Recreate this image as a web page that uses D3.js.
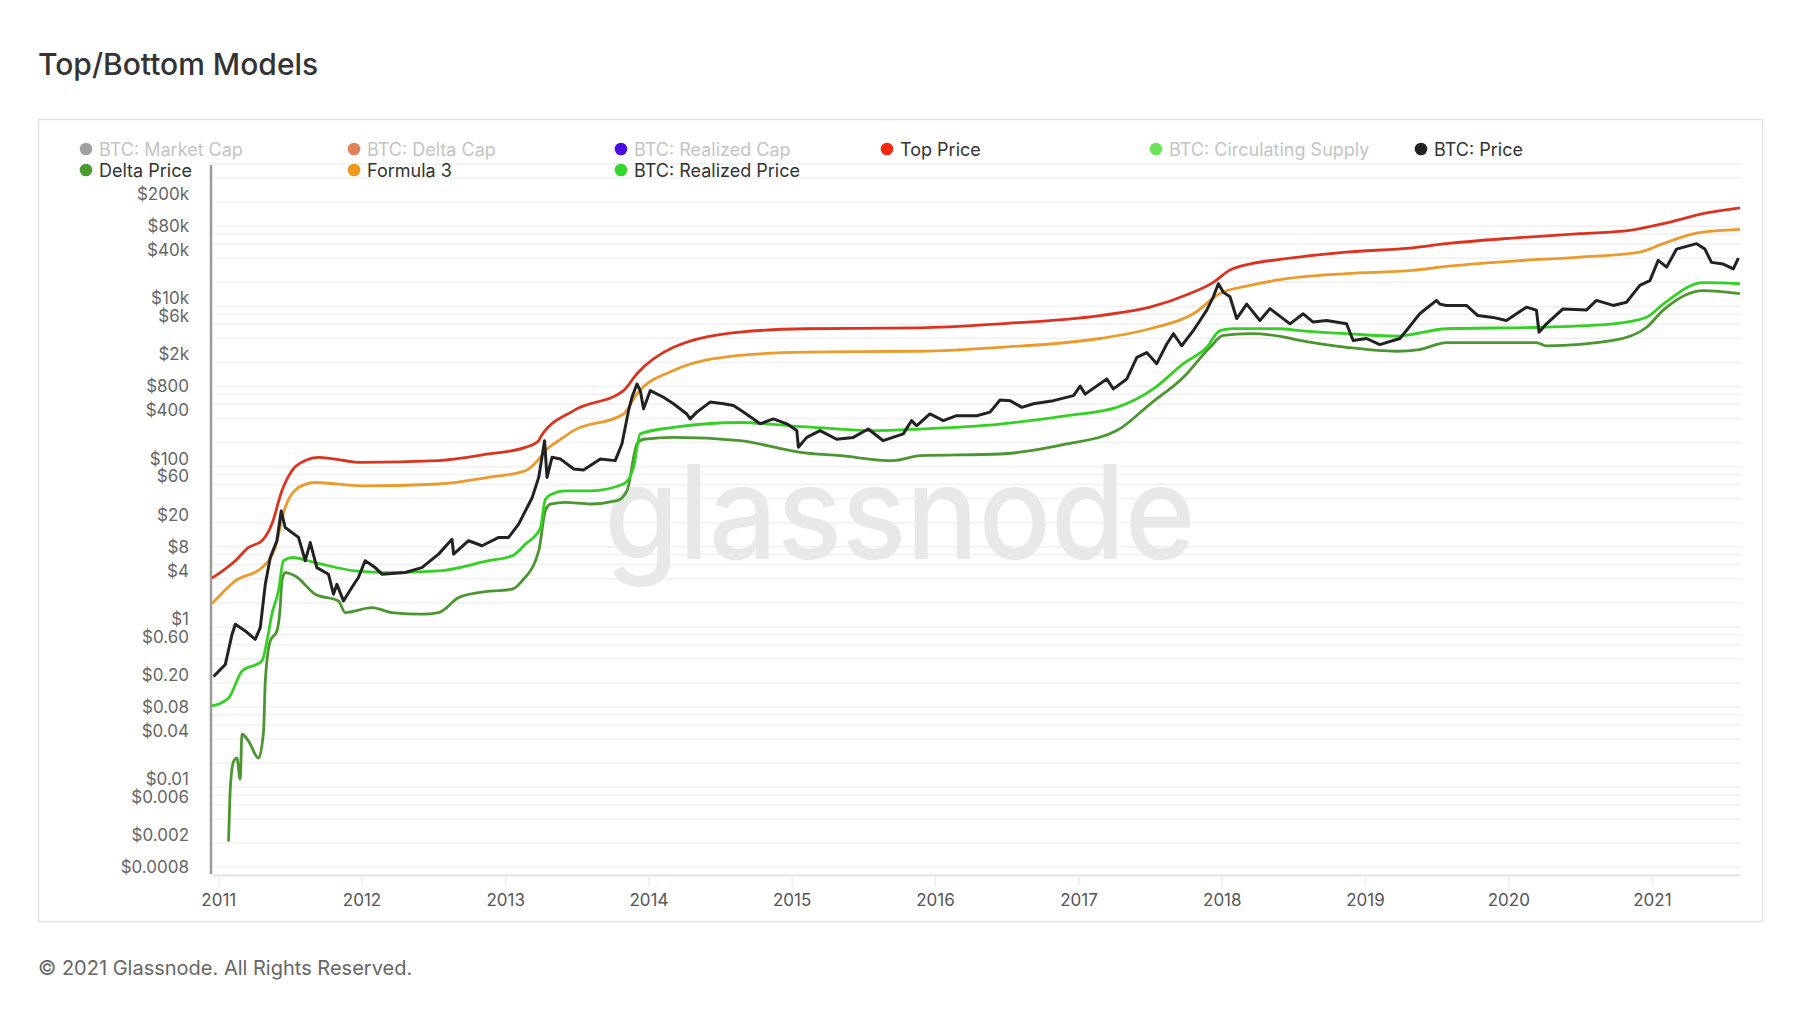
<!DOCTYPE html>
<html>
<head>
<meta charset="utf-8">
<script src="https://cdn.jsdelivr.net/npm/d3@7"></script>
<style>
  body { margin: 0; background: #fff; }
  text { font-family: Inter, "Noto Sans", sans-serif; }
</style>
</head>
<body>
<script>
// data: [decimal year, USD]
const topPrice = [
  [2010.956, 4.06], [2011.119, 6.7], [2011.211, 9.8], [2011.305, 11.9], [2011.374, 19.2],
  [2011.444, 50], [2011.514, 89], [2011.607, 119], [2011.699, 131], [2012.002, 113],
  [2012.536, 119], [2012.885, 144], [2013.141, 174], [2013.234, 211], [2013.245, 232],
  [2013.478, 501], [2013.826, 891], [2013.920, 1445], [2014.175, 3090], [2014.640, 4780],
  [2015.105, 5270], [2015.895, 5400], [2016.453, 6070], [2017.151, 7700], [2017.499, 9800],
  [2017.778, 14500], [2017.941, 20000], [2018.05, 28000], [2018.2, 34000], [2018.406, 38600],
  [2018.871, 47600], [2019.333, 54000], [2019.568, 60800], [2020.031, 71400], [2020.498, 81000],
  [2020.846, 89000], [2021.079, 108000], [2021.381, 147000], [2021.615, 170000]
];

const formula3 = [
  [2010.956, 1.95], [2011.119, 3.76], [2011.305, 5.5], [2011.397, 9.8], [2011.467, 31],
  [2011.560, 55], [2011.676, 63.5], [2012.002, 57.6], [2012.536, 60.8], [2012.885, 73.5],
  [2013.141, 89], [2013.245, 131], [2013.280, 158], [2013.373, 211], [2013.478, 282],
  [2013.826, 455], [2013.920, 810], [2014.175, 1585], [2014.640, 2450], [2015.105, 2690],
  [2015.895, 2760], [2016.453, 3090], [2017.151, 3980], [2017.499, 5270], [2017.802, 8100],
  [2017.987, 14500], [2018.197, 18300], [2018.406, 21600], [2018.871, 25700], [2019.333, 28200],
  [2019.568, 31600], [2020.031, 36800], [2020.498, 41300], [2020.916, 47800], [2021.079, 60800],
  [2021.312, 82400], [2021.615, 91500]
];

const realizedPrice = [
  [2010.956, 0.103], [2011.072, 0.13], [2011.165, 0.28], [2011.305, 0.376], [2011.340, 0.67],
  [2011.374, 1.44], [2011.420, 2.8], [2011.455, 6.7], [2011.514, 7.35], [2011.676, 6.35],
  [2011.955, 5.0], [2012.188, 4.77], [2012.536, 5.0], [2012.885, 6.7], [2013.048, 7.7],
  [2013.141, 10.8], [2013.245, 17], [2013.280, 39], [2013.327, 45.6], [2013.420, 50],
  [2013.594, 50], [2013.826, 60.8], [2013.896, 98], [2013.943, 257], [2014.175, 310],
  [2014.640, 356], [2014.989, 324], [2015.337, 295], [2015.570, 282], [2015.895, 295],
  [2016.453, 340], [2016.918, 433], [2017.267, 550], [2017.522, 935], [2017.732, 1930],
  [2017.895, 3090], [2017.987, 5000], [2018.080, 5300], [2018.406, 5270], [2018.545, 5000],
  [2018.871, 4570], [2019.220, 4260], [2019.568, 5270], [2020.219, 5500], [2020.730, 6070],
  [2020.963, 7340], [2021.079, 10700], [2021.358, 19800], [2021.615, 19200]
];

const deltaPrice = [
  [2011.072, 0.0021], [2011.084, 0.0098], [2011.107, 0.021], [2011.130, 0.023], [2011.153, 0.0125],
  [2011.165, 0.0457], [2011.211, 0.0375], [2011.281, 0.023], [2011.316, 0.05], [2011.328, 0.21],
  [2011.363, 0.67], [2011.409, 0.89], [2011.432, 1.74], [2011.444, 3.76], [2011.467, 4.77],
  [2011.537, 4.33], [2011.676, 2.56], [2011.839, 2.11], [2011.886, 1.51], [2012.072, 1.74],
  [2012.211, 1.51], [2012.420, 1.44], [2012.536, 1.51], [2012.676, 2.32], [2012.815, 2.68],
  [2013.048, 2.96], [2013.118, 3.76], [2013.234, 8.9], [2013.280, 28], [2013.315, 34],
  [2013.420, 35.8], [2013.594, 34.2], [2013.780, 37.6], [2013.850, 50], [2013.920, 192],
  [2013.966, 220], [2014.175, 232], [2014.640, 211], [2015.059, 151], [2015.337, 137],
  [2015.709, 119], [2015.895, 137], [2016.453, 144], [2016.918, 192], [2017.267, 282],
  [2017.499, 605], [2017.732, 1310], [2017.918, 3090], [2018.010, 4350], [2018.197, 4570],
  [2018.429, 4170], [2018.545, 3760], [2018.871, 3090], [2019.220, 2760], [2019.382, 2900],
  [2019.568, 3540], [2020.196, 3540], [2020.266, 3220], [2020.730, 3760], [2020.963, 5500],
  [2021.079, 9000], [2021.358, 15800], [2021.615, 14500]
];

const btcPrice = [
  [2010.967, 0.24], [2011.049, 0.34], [2011.096, 0.81], [2011.119, 1.08], [2011.188, 0.89],
  [2011.258, 0.70], [2011.293, 0.98], [2011.328, 3.4], [2011.363, 7.35], [2011.409, 11.9],
  [2011.439, 28], [2011.467, 17.4], [2011.560, 13.1], [2011.607, 6.7], [2011.642, 11.3],
  [2011.688, 5.5], [2011.769, 4.55], [2011.804, 2.56], [2011.828, 3.4], [2011.874, 2.11],
  [2011.932, 3.1], [2011.978, 4.14], [2012.025, 6.7], [2012.095, 5.5], [2012.142, 4.55],
  [2012.304, 4.77], [2012.420, 5.5], [2012.536, 8.1], [2012.630, 12.4], [2012.641, 8.1],
  [2012.745, 11.9], [2012.839, 10.3], [2012.955, 13.1], [2013.024, 13.1], [2013.094, 19.2],
  [2013.188, 41], [2013.234, 73.5], [2013.275, 211], [2013.292, 73.5], [2013.327, 131],
  [2013.385, 125], [2013.478, 93.6], [2013.547, 91], [2013.664, 125], [2013.768, 119],
  [2013.815, 192], [2013.861, 500], [2013.885, 735], [2013.920, 1075], [2013.943, 891],
  [2013.966, 529], [2014.013, 891], [2014.105, 735], [2014.175, 611], [2014.268, 455],
  [2014.291, 395], [2014.338, 480], [2014.431, 640], [2014.524, 611], [2014.594, 580],
  [2014.663, 480], [2014.780, 343], [2014.872, 395], [2014.966, 343], [2015.036, 282],
  [2015.047, 175], [2015.105, 232], [2015.198, 282], [2015.314, 220], [2015.430, 232],
  [2015.535, 295], [2015.639, 211], [2015.779, 257], [2015.837, 376], [2015.872, 324],
  [2015.965, 455], [2016.058, 376], [2016.151, 433], [2016.291, 433], [2016.384, 480],
  [2016.453, 680], [2016.523, 667], [2016.605, 550], [2016.686, 611], [2016.825, 667],
  [2016.965, 770], [2017.011, 1015], [2017.046, 805], [2017.197, 1245], [2017.243, 935],
  [2017.337, 1245], [2017.407, 2320], [2017.476, 2660], [2017.546, 1930], [2017.616, 3400],
  [2017.662, 4570], [2017.720, 3230], [2017.801, 5000], [2017.848, 6680], [2017.895, 9000],
  [2017.941, 13200], [2017.976, 19200], [2018.010, 15100], [2018.057, 13200], [2018.104, 7060],
  [2018.174, 10700], [2018.266, 6680], [2018.336, 9400], [2018.476, 6070], [2018.568, 8100],
  [2018.638, 6380], [2018.731, 6680], [2018.871, 6070], [2018.917, 3760], [2019.010, 3980],
  [2019.103, 3340], [2019.243, 3980], [2019.289, 5000], [2019.382, 8100], [2019.499, 11900],
  [2019.522, 10700], [2019.568, 10300], [2019.708, 10300], [2019.787, 7700], [2019.893, 7300],
  [2019.987, 6680], [2020.126, 9800], [2020.196, 9000], [2020.214, 4780], [2020.266, 6070],
  [2020.381, 9300], [2020.544, 9000], [2020.614, 11900], [2020.730, 10300], [2020.823, 11300],
  [2020.916, 18300], [2020.986, 21000], [2021.044, 37600], [2021.103, 31000], [2021.172, 52000],
  [2021.312, 60800], [2021.370, 52000], [2021.416, 35500], [2021.498, 33800], [2021.568, 29400],
  [2021.604, 40000]
];

const legendNames = [
  "BTC: Market Cap", "BTC: Delta Cap", "BTC: Realized Cap", "Top Price",
  "BTC: Circulating Supply", "BTC: Price", "Delta Price", "Formula 3", "BTC: Realized Price"
];
const legendActive = [false, false, false, true, false, true, true, true, true];

const years = [2011, 2012, 2013, 2014, 2015, 2016, 2017, 2018, 2019, 2020, 2021];
const yLabels = [200000, 80000, 40000, 10000, 6000, 2000, 800, 400, 100, 60, 20, 8, 4, 1,
  0.6, 0.2, 0.08, 0.04, 0.01, 0.006, 0.002, 0.0008];
const gridSteps = [1, 2, 4, 6, 8];

// couleurs
const legendColors = ["#a0a0a0", "#e0825a", "#4a0be0", "#f3290f", "#6ce45a", "#222222",
  "#4b9a30", "#f0981e", "#33d62a"];

function yearToDate(y) {
  const yr = Math.floor(y);
  const a = Date.UTC(yr, 0, 1), b = Date.UTC(yr + 1, 0, 1);
  return new Date(a + (y - yr) * (b - a));
}

const svg = d3.select("body").append("svg")
  .attr("width", 1800)
  .attr("height", 1013)

// titre
svg.append("text")
  .attr("x", 38).attr("y", 64)
  .attr("dominant-baseline", "central")
  .attr("font-size", 30)
  .attr("font-weight", 500)
  .attr("fill", "#333")
  .text("Top/Bottom Models")

// cadre
svg.append("rect")
  .attr("x", 38.5).attr("y", 119.5)
  .attr("width", 1724).attr("height", 802)
  .attr("fill", "none")
  .attr("stroke", "#e2e2e2")
  .attr("stroke-width", 1.5)

// pied de page
svg.append("text")
  .attr("x", 38).attr("y", 968)
  .attr("dominant-baseline", "central")
  .attr("font-size", 20)
  .attr("fill", "#666")
  .text("© 2021 Glassnode. All Rights Reserved.")

// échelles
const x = d3.scaleTime()
  .domain([yearToDate(2010.956), yearToDate(2021.615)])
  .range([212, 1740])

const y = d3.scaleLog()
  .domain([0.0008, 600000])
  .range([875, 164])

// grille
const gridVals = [];
for (let e = -4; e <= 5; e++) {
  gridSteps.forEach(s => {
    const v = s * Math.pow(10, e);
    if (v >= 0.0008 * 0.999 && v <= 600000 * 1.001) gridVals.push(v);
  });
}
svg.append("g").selectAll("line")
  .data(gridVals)
  .enter()
  .append("line")
  .attr("x1", 212).attr("x2", 1741)
  .attr("y1", d => y(d)).attr("y2", d => y(d))
  .attr("stroke", "#f0f0f0")
  .attr("stroke-width", 1.5)

// filigrane
svg.append("text")
  .attr("x", 900).attr("y", 559)
  .attr("text-anchor", "middle")
  .attr("font-size", 130)
  .attr("font-weight", 500)
  .attr("fill", "#e8e8e8")
  .attr("textLength", 591)
  .attr("lengthAdjust", "spacingAndGlyphs")
  .text("glassnode")

// axe x
const xAxis = svg.append("g")
  .attr("transform", "translate(0,875)")
  .call(d3.axisBottom(x)
    .tickValues(years.map(d => yearToDate(d)))
    .tickFormat(d3.timeFormat("%Y"))
    .tickSize(11)
    .tickSizeOuter(0)
    .tickPadding(8))
xAxis.select(".domain").attr("stroke", "#e4e4e4").attr("stroke-width", 2)
xAxis.selectAll(".tick line").attr("stroke", "#ececec").attr("stroke-width", 1.5)
xAxis.selectAll(".tick text")
  .attr("font-size", 17)
  .attr("fill", "#555")
  .style("font-family", "Inter, 'Noto Sans', sans-serif")

// axe y
svg.append("line")
  .attr("x1", 211).attr("x2", 211)
  .attr("y1", 165).attr("y2", 874)
  .attr("stroke", "#9a9a9a")
  .attr("stroke-width", 2.5)

function fmt(v) {
  if (v >= 1000) return "$" + (v / 1000) + "k";
  if (v >= 1) return "$" + v;
  if (v >= 0.1) return "$" + v.toFixed(2);
  return "$" + v;
}
svg.append("g").selectAll("text")
  .data(yLabels)
  .enter()
  .append("text")
  .attr("x", 189)
  .attr("y", d => y(d) - 8)
  .attr("text-anchor", "end")
  .attr("dominant-baseline", "central")
  .attr("font-size", 17)
  .attr("fill", "#666")
  .text(d => fmt(d))

// lignes
const smooth = d3.line()
  .x(d => x(yearToDate(d[0])))
  .y(d => y(d[1]))
  .curve(d3.curveMonotoneX)

const jagged = d3.line()
  .x(d => x(yearToDate(d[0])))
  .y(d => y(d[1]))

const series = [
  { data: topPrice, color: "#dc3320", line: smooth, w: 2.8 },
  { data: formula3, color: "#eb9a2c", line: smooth, w: 2.8 },
  { data: deltaPrice, color: "#4b9631", line: smooth, w: 2.8 },
  { data: realizedPrice, color: "#34d024", line: smooth, w: 2.8 },
  { data: btcPrice, color: "#222222", line: jagged, w: 3 }
]
series.forEach(s => {
  svg.append("path")
    .datum(s.data)
    .attr("d", s.line)
    .attr("fill", "none")
    .attr("stroke", s.color)
    .attr("stroke-width", s.w)
    .attr("stroke-linejoin", "round")
})

// légende
const legendCols = [86, 354, 621, 887, 1156, 1421];
const legend = svg.append("g").selectAll("g")
  .data(legendNames)
  .enter()
  .append("g")
  .attr("transform", (d, i) => {
    const row = i < 6 ? 0 : 1;
    const col = i < 6 ? i : i - 6;
    return "translate(" + legendCols[col] + "," + (149 + row * 21) + ")";
  })
legend.append("circle")
  .attr("r", 6.3)
  .attr("fill", (d, i) => legendColors[i])
legend.append("text")
  .attr("x", 13)
  .attr("dominant-baseline", "central")
  .attr("font-size", 18)
  .attr("fill", (d, i) => legendActive[i] ? "#333" : "#c4c4c4")
  .text(d => d)
</script>
</body>
</html>
